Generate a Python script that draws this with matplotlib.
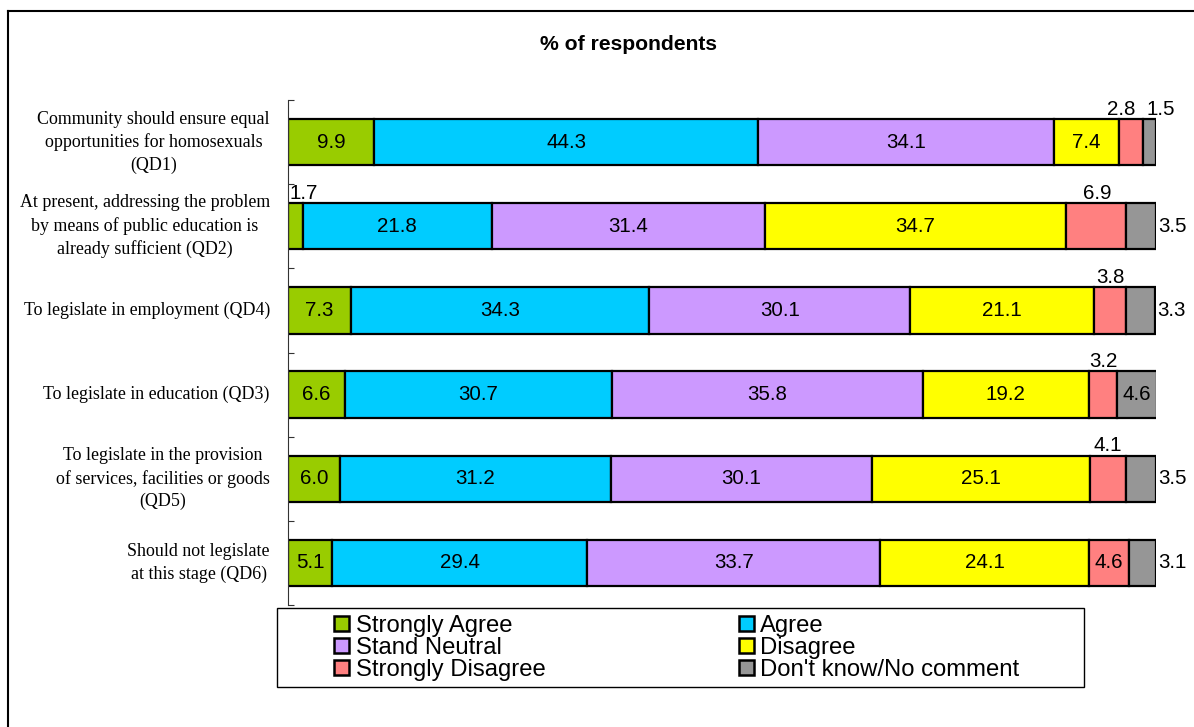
import numpy as np
import matplotlib.pyplot as plt
from matplotlib.patches import Patch
from matplotlib.lines import Line2D

# data
questions = [
    "Community should ensure equal\nopportunities for homosexuals\n(QD1)",
    "At present, addressing the problem\nby means of public education is\nalready sufficient (QD2)",
    "To legislate in employment (QD4)",
    "To legislate in education (QD3)",
    "To legislate in the provision\nof services, facilities or goods\n(QD5)",
    "Should not legislate\nat this stage (QD6)",
]
responses = ["Strongly Agree", "Agree", "Stand Neutral", "Disagree",
             "Strongly Disagree", "Don't know/No comment"]
strongly_agree = [9.9, 1.7, 7.3, 6.6, 6.0, 5.1]
agree = [44.3, 21.8, 34.3, 30.7, 31.2, 29.4]
neutral = [34.1, 31.4, 30.1, 35.8, 30.1, 33.7]
disagree = [7.4, 34.7, 21.1, 19.2, 25.1, 24.1]
strongly_disagree = [2.8, 6.9, 3.8, 3.2, 4.1, 4.6]
dont_know = [1.5, 3.5, 3.3, 4.6, 3.5, 3.1]

series = [strongly_agree, agree, neutral, disagree, strongly_disagree, dont_know]
colors = ["#99CC00", "#00CCFF", "#CC99FF", "#FFFF00", "#FF8080", "#969696"]

# where each value label goes: (mode, x shift)
placement = {
    (0, 4): ("above", -1.15), (0, 5): ("above", 1.3),
    (1, 0): ("above", 0.9), (1, 4): ("above", 0.2), (1, 5): ("right", 0),
    (2, 4): ("above", 0), (2, 5): ("right", 0),
    (3, 4): ("above", 0),
    (4, 4): ("above", 0), (4, 5): ("right", 0),
    (5, 5): ("right", 0),
}

W, H = 1194, 727
fig = plt.figure(figsize=(W / 100, H / 100), dpi=100)
ax = fig.add_axes([288 / W, 1 - 605 / H, 868 / W, 505 / H])

num_font = {"family": "Liberation Sans", "size": 14.8}

bar_h = 0.55
y = np.arange(len(questions))
left = np.zeros(len(questions))
for k, (vals, col) in enumerate(zip(series, colors)):
    vals = np.array(vals)
    ax.barh(y, vals, left=left, height=bar_h, color=col,
            edgecolor="black", linewidth=1.6, zorder=2)
    for i in range(len(questions)):
        mode, dx = placement.get((i, k), ("in", 0))
        cx = left[i] + vals[i] / 2
        txt = f"{vals[i]:.1f}"
        if mode == "in":
            ax.text(cx, y[i], txt, ha="center", va="center", zorder=3, **num_font)
        elif mode == "above":
            ax.text(cx + dx, y[i] - bar_h / 2 - 0.05, txt, ha="center",
                    va="baseline", **num_font)
        else:
            ax.text(left[i] + vals[i] + 0.25, y[i], txt, ha="left",
                    va="center", **num_font)
    left += vals

for i, q in enumerate(questions):
    ax.text(-2.1, y[i], q, ha="right", va="center", multialignment="center",
            fontsize=12.9, family="Liberation Serif", linespacing=1.4)

ax.set_xlim(0, 100)
ax.set_ylim(len(questions) - 0.5, -0.5)
ax.set_yticks(np.arange(-0.5, len(questions), 1))
ax.set_yticklabels([])
ax.tick_params(axis="y", direction="in", length=4, width=0.8, color="#333333")
ax.xaxis.set_visible(False)
for s in ["top", "right", "bottom"]:
    ax.spines[s].set_visible(False)
ax.spines["left"].set_color("#333333")
ax.spines["left"].set_linewidth(0.8)

fig.text(629 / W, 1 - 45 / H, "% of respondents", ha="center", va="center",
         fontsize=15.2, fontweight="bold", family="Liberation Sans")

# outer frame (left and top only are visible)
fig.add_artist(Line2D([7.5 / W, 7.5 / W], [0, 1 - 11 / H], transform=fig.transFigure,
                      color="black", lw=1.5))
fig.add_artist(Line2D([7.5 / W, 1], [1 - 11 / H, 1 - 11 / H], transform=fig.transFigure,
                      color="black", lw=1.5))

# legend box
fig.add_artist(plt.Rectangle((277 / W, 1 - 687 / H), (1084 - 277) / W, (687 - 608) / H,
                             transform=fig.transFigure, fill=False,
                             edgecolor="black", lw=1.0))
handles = [Patch(facecolor=c, edgecolor="black", linewidth=1.8) for c in colors]
order = [0, 2, 4, 1, 3, 5]
fig.legend([handles[j] for j in order], [responses[j] for j in order],
           ncol=2, frameon=False, loc="upper left",
           bbox_to_anchor=(334 / W, 1 - 615 / H),
           prop={"family": "Liberation Sans", "size": 17.2},
           handlelength=0.62, handleheight=0.62, handletextpad=0.28,
           labelspacing=0.0, columnspacing=8.1, borderpad=0, borderaxespad=0)

fig.savefig("out.png", dpi=100)
